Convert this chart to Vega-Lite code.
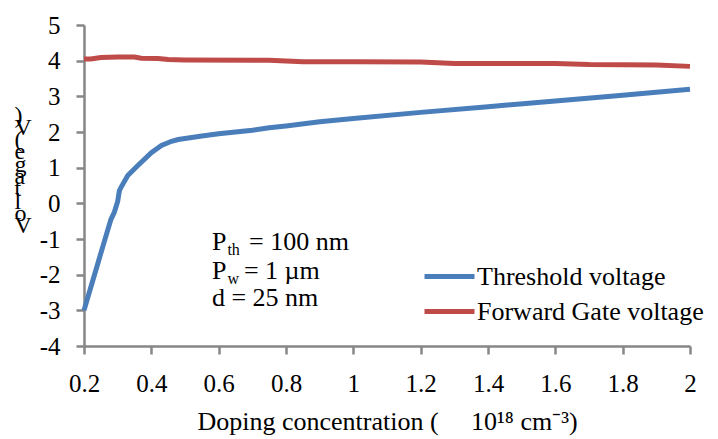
{
  "$schema": "https://vega.github.io/schema/vega-lite/v6.json",
  "width": 606,
  "height": 321,
  "autosize": {"type": "none"},
  "padding": {"left": 84, "top": 25, "right": 28, "bottom": 93},
  "background": "white",
  "config": {
    "view": {"stroke": null},
    "font": "Liberation Serif",
    "text": {"font": "Liberation Serif"},
    "style": {
      "guide-label": {"font": "Liberation Serif", "fontSize": 25, "fill": "black"},
      "guide-title": {"font": "Liberation Serif", "fontSize": 26, "fontWeight": "normal", "fill": "black"}
    },
    "axis": {
      "grid": false,
      "domainColor": "#868686",
      "domainWidth": 2.5,
      "tickColor": "#868686",
      "tickWidth": 2.5,
      "tickSize": 8,
      "labelFont": "Liberation Serif",
      "labelFontSize": 25,
      "labelColor": "black",
      "labelOverlap": false,
      "labelFlush": false,
      "titleFont": "Liberation Serif",
      "titleFontWeight": "normal",
      "titleColor": "black",
      "titleFontSize": 26
    },
    "legend": {"labelFont": "Liberation Serif"}
  },
  "datasets": {
    "curves": [
      {"c": 0.2, "v": -3.0, "s": "Threshold voltage"},
      {"c": 0.22, "v": -2.36, "s": "Threshold voltage"},
      {"c": 0.24, "v": -1.72, "s": "Threshold voltage"},
      {"c": 0.26, "v": -1.08, "s": "Threshold voltage"},
      {"c": 0.28, "v": -0.45, "s": "Threshold voltage"},
      {"c": 0.29, "v": -0.25, "s": "Threshold voltage"},
      {"c": 0.3, "v": 0.05, "s": "Threshold voltage"},
      {"c": 0.305, "v": 0.35, "s": "Threshold voltage"},
      {"c": 0.31, "v": 0.45, "s": "Threshold voltage"},
      {"c": 0.33, "v": 0.78, "s": "Threshold voltage"},
      {"c": 0.36, "v": 1.06, "s": "Threshold voltage"},
      {"c": 0.4, "v": 1.42, "s": "Threshold voltage"},
      {"c": 0.43, "v": 1.62, "s": "Threshold voltage"},
      {"c": 0.46, "v": 1.74, "s": "Threshold voltage"},
      {"c": 0.48, "v": 1.79, "s": "Threshold voltage"},
      {"c": 0.5, "v": 1.82, "s": "Threshold voltage"},
      {"c": 0.55, "v": 1.89, "s": "Threshold voltage"},
      {"c": 0.6, "v": 1.95, "s": "Threshold voltage"},
      {"c": 0.7, "v": 2.05, "s": "Threshold voltage"},
      {"c": 0.75, "v": 2.12, "s": "Threshold voltage"},
      {"c": 0.8, "v": 2.17, "s": "Threshold voltage"},
      {"c": 0.9, "v": 2.29, "s": "Threshold voltage"},
      {"c": 1.0, "v": 2.38, "s": "Threshold voltage"},
      {"c": 1.2, "v": 2.55, "s": "Threshold voltage"},
      {"c": 1.4, "v": 2.71, "s": "Threshold voltage"},
      {"c": 1.6, "v": 2.87, "s": "Threshold voltage"},
      {"c": 1.8, "v": 3.03, "s": "Threshold voltage"},
      {"c": 2.0, "v": 3.2, "s": "Threshold voltage"},
      {"c": 0.2, "v": 4.05, "s": "Forward Gate voltage"},
      {"c": 0.22, "v": 4.05, "s": "Forward Gate voltage"},
      {"c": 0.25, "v": 4.09, "s": "Forward Gate voltage"},
      {"c": 0.3, "v": 4.1, "s": "Forward Gate voltage"},
      {"c": 0.35, "v": 4.1, "s": "Forward Gate voltage"},
      {"c": 0.37, "v": 4.07, "s": "Forward Gate voltage"},
      {"c": 0.42, "v": 4.06, "s": "Forward Gate voltage"},
      {"c": 0.45, "v": 4.03, "s": "Forward Gate voltage"},
      {"c": 0.5, "v": 4.02, "s": "Forward Gate voltage"},
      {"c": 0.75, "v": 4.01, "s": "Forward Gate voltage"},
      {"c": 0.85, "v": 3.97, "s": "Forward Gate voltage"},
      {"c": 1.0, "v": 3.97, "s": "Forward Gate voltage"},
      {"c": 1.2, "v": 3.96, "s": "Forward Gate voltage"},
      {"c": 1.3, "v": 3.92, "s": "Forward Gate voltage"},
      {"c": 1.6, "v": 3.92, "s": "Forward Gate voltage"},
      {"c": 1.7, "v": 3.89, "s": "Forward Gate voltage"},
      {"c": 1.9, "v": 3.88, "s": "Forward Gate voltage"},
      {"c": 2.0, "v": 3.84, "s": "Forward Gate voltage"}
    ],
    "notes": [
      {"t": "P", "c": 0.58, "v": -1.08},
      {"t": "= 100 nm", "c": 0.69, "v": -1.08},
      {"t": "P", "c": 0.58, "v": -1.9},
      {"t": "= 1 µm", "c": 0.675, "v": -1.9},
      {"t": "d = 25 nm", "c": 0.58, "v": -2.65}
    ],
    "subs": [
      {"t": "th", "c": 0.626, "v": -1.08},
      {"t": "w", "c": 0.626, "v": -1.9}
    ]
  },
  "encoding": {
    "x": {
      "field": "c", "type": "quantitative",
      "scale": {"domain": [0.2, 2], "nice": false, "zero": false},
      "axis": {
        "values": [0.2, 0.4, 0.6, 0.8, 1, 1.2, 1.4, 1.6, 1.8, 2],
        "labelExpr": "toString(datum.value)",
        "labelFont": "Liberation Serif",
        "labelFontSize": 25,
        "labelOverlap": false,
        "labelFlush": false,
        "labelPadding": 17,
        "title": "Doping concentration (\u00a0\u00a0\u00a0\u00a0\u00a010¹⁸ cm⁻³)",
        "titleFont": "Liberation Serif",
        "titleFontSize": 26,
        "titlePadding": 12
      }
    },
    "y": {
      "field": "v", "type": "quantitative",
      "scale": {"domain": [-4, 5], "nice": false, "zero": false},
      "axis": {
        "values": [-4, -3, -2, -1, 0, 1, 2, 3, 4, 5],
        "labelExpr": "toString(datum.value)",
        "labelFont": "Liberation Serif",
        "labelFontSize": 25,
        "labelOverlap": false,
        "labelFlush": false,
        "labelPadding": 16,
        "title": [")", "V", "(", "e", "g", "a", "t", "l", "o", "V"],
        "titleFont": "Liberation Serif",
        "titleFontSize": 24,
        "titleAngle": 0,
        "titleLineHeight": 12.3,
        "titleAlign": "left",
        "titleBaseline": "middle",
        "titleX": -70,
        "titleY": 90
      }
    }
  },
  "layer": [
    {
      "data": {"name": "curves"},
      "mark": {"type": "line", "strokeWidth": 5, "interpolate": "linear"},
      "encoding": {
        "color": {
          "field": "s", "type": "nominal",
          "scale": {"domain": ["Threshold voltage", "Forward Gate voltage"], "range": ["#4A7EBB", "#BE4B48"]},
          "legend": {
            "title": null,
            "orient": "none",
            "legendX": 338,
            "legendY": 234,
            "symbolType": "stroke",
            "symbolSize": 2500,
            "symbolStrokeWidth": 5,
            "labelFont": "Liberation Serif",
            "labelFontSize": 26,
            "labelColor": "black",
            "labelOffset": 0,
            "clipHeight": 35,
            "rowPadding": 0,
            "labelLimit": 400
          }
        }
      }
    },
    {
      "data": {"name": "notes"},
      "mark": {"type": "text", "align": "left", "baseline": "middle", "fontSize": 26, "font": "Liberation Serif", "color": "black"},
      "encoding": {
        "text": {"field": "t"}
      }
    },
    {
      "data": {"name": "subs"},
      "mark": {"type": "text", "align": "left", "baseline": "middle", "fontSize": 16, "dy": 8, "font": "Liberation Serif", "color": "black"},
      "encoding": {
        "text": {"field": "t"}
      }
    }
  ]
}
